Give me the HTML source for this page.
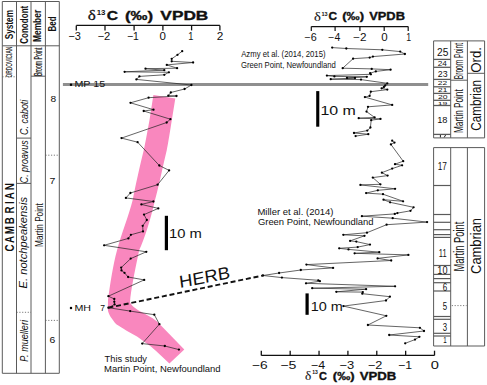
<!DOCTYPE html>
<html><head><meta charset="utf-8"><style>
html,body{margin:0;padding:0;background:#fff;width:487px;height:385px;overflow:hidden}
svg{display:block}
</style></head><body>
<svg width="487" height="385" viewBox="0 0 487 385"><line x1="2.3" y1="1.5" x2="2.3" y2="373.3" stroke="#5a5a5a" stroke-width="1" />
<line x1="16.5" y1="1.5" x2="16.5" y2="373.3" stroke="#5a5a5a" stroke-width="1" />
<line x1="31.0" y1="1.5" x2="31.0" y2="373.3" stroke="#5a5a5a" stroke-width="1" />
<line x1="45.4" y1="1.5" x2="45.4" y2="373.3" stroke="#5a5a5a" stroke-width="1" />
<line x1="59.3" y1="1.5" x2="59.3" y2="373.3" stroke="#5a5a5a" stroke-width="1" />
<line x1="2.3" y1="1.5" x2="59.3" y2="1.5" stroke="#5a5a5a" stroke-width="1" />
<line x1="2.3" y1="373.3" x2="59.3" y2="373.3" stroke="#5a5a5a" stroke-width="1" />
<line x1="2.3" y1="45.8" x2="59.3" y2="45.8" stroke="#5a5a5a" stroke-width="1" />
<line x1="2.3" y1="76.8" x2="16.5" y2="76.8" stroke="#5a5a5a" stroke-width="0.8" stroke-dasharray="1.2,1.6"/>
<line x1="16.5" y1="138.1" x2="31.0" y2="138.1" stroke="#5a5a5a" stroke-width="1" />
<line x1="16.5" y1="183.4" x2="31.0" y2="183.4" stroke="#5a5a5a" stroke-width="1" />
<line x1="16.5" y1="312.3" x2="31.0" y2="312.3" stroke="#5a5a5a" stroke-width="0.8" stroke-dasharray="1.2,1.6"/>
<line x1="31.0" y1="76.2" x2="45.4" y2="76.2" stroke="#5a5a5a" stroke-width="1" />
<line x1="45.4" y1="155.2" x2="59.3" y2="155.2" stroke="#5a5a5a" stroke-width="0.8" stroke-dasharray="1.2,1.6"/>
<line x1="45.4" y1="320.4" x2="59.3" y2="320.4" stroke="#5a5a5a" stroke-width="0.8" stroke-dasharray="1.2,1.6"/>
<text transform="translate(12.50,39.35) rotate(-90) scale(0.7787,1)" font-family="Liberation Sans" font-weight="bold" font-style="normal" font-size="10.6" fill="#111" >System</text>
<text transform="translate(27.50,43.82) rotate(-90) scale(0.7620,1)" font-family="Liberation Sans" font-weight="bold" font-style="normal" font-size="10.6" fill="#111" >Conodont</text>
<text transform="translate(41.40,41.97) rotate(-90) scale(0.7495,1)" font-family="Liberation Sans" font-weight="bold" font-style="normal" font-size="11.2" fill="#111" >Member</text>
<text transform="translate(56.00,31.44) rotate(-90) scale(0.7386,1)" font-family="Liberation Sans" font-weight="bold" font-style="normal" font-size="10.8" fill="#111" >Bed</text>
<text transform="translate(12.40,77.53) rotate(-90) scale(0.5161,1)" font-family="Liberation Sans" font-weight="normal" font-style="normal" font-size="9.4" fill="#111" stroke="#111" stroke-width="0.15">ORDOVICIAN</text>
<text transform="translate(41.70,76.02) rotate(-90) scale(0.4987,1)" font-family="Liberation Sans" font-weight="normal" font-style="normal" font-size="10.3" fill="#111" stroke="#111" stroke-width="0.2">Broom Point</text>
<text transform="translate(13.9,247.9) rotate(-90) scale(0.8,1)" text-anchor="middle" font-family="Liberation Sans" font-weight="bold" font-size="12.2" fill="#111">C</text>
<text transform="translate(13.9,239.5) rotate(-90) scale(0.8,1)" text-anchor="middle" font-family="Liberation Sans" font-weight="bold" font-size="12.2" fill="#111">A</text>
<text transform="translate(13.9,230.2) rotate(-90) scale(0.8,1)" text-anchor="middle" font-family="Liberation Sans" font-weight="bold" font-size="12.2" fill="#111">M</text>
<text transform="translate(13.9,220.8) rotate(-90) scale(0.8,1)" text-anchor="middle" font-family="Liberation Sans" font-weight="bold" font-size="12.2" fill="#111">B</text>
<text transform="translate(13.9,210.0) rotate(-90) scale(0.8,1)" text-anchor="middle" font-family="Liberation Sans" font-weight="bold" font-size="12.2" fill="#111">R</text>
<text transform="translate(13.9,202.7) rotate(-90) scale(0.8,1)" text-anchor="middle" font-family="Liberation Sans" font-weight="bold" font-size="12.2" fill="#111">I</text>
<text transform="translate(13.9,195.7) rotate(-90) scale(0.8,1)" text-anchor="middle" font-family="Liberation Sans" font-weight="bold" font-size="12.2" fill="#111">A</text>
<text transform="translate(13.9,186.8) rotate(-90) scale(0.8,1)" text-anchor="middle" font-family="Liberation Sans" font-weight="bold" font-size="12.2" fill="#111">N</text>
<text transform="translate(28.00,134.89) rotate(-90) scale(0.8355,1)" font-family="Liberation Sans" font-weight="normal" font-style="italic" font-size="10.7" fill="#111" >C. caboti</text>
<text transform="translate(27.60,183.19) rotate(-90) scale(0.8443,1)" font-family="Liberation Sans" font-weight="normal" font-style="italic" font-size="10.5" fill="#111" >C. proavus</text>
<text transform="translate(27.00,288.54) rotate(-90) scale(1.0374,1)" font-family="Liberation Sans" font-weight="normal" font-style="italic" font-size="10.8" fill="#111" >E. notchpeakensis</text>
<text transform="translate(28.20,361.77) rotate(-90) scale(0.8657,1)" font-family="Liberation Sans" font-weight="normal" font-style="italic" font-size="10.5" fill="#111" >P. muelleri</text>
<text transform="translate(42.60,246.88) rotate(-90) scale(0.7808,1)" font-family="Liberation Sans" font-weight="normal" font-style="normal" font-size="10.5" fill="#111" >Martin Point</text>
<text transform="translate(50.47,102.00) scale(1.0750,1.0)" font-family="Liberation Sans" font-weight="normal" font-style="normal" font-size="9.5" fill="#111" >8</text>
<text transform="translate(49.47,184.40) scale(1.1105,1.0)" font-family="Liberation Sans" font-weight="normal" font-style="normal" font-size="9.5" fill="#111" >7</text>
<text transform="translate(49.38,342.80) scale(1.0925,1.0)" font-family="Liberation Sans" font-weight="normal" font-style="normal" font-size="9.5" fill="#111" >6</text>
<path d="M153.4,95 L175.3,98.4 C171,125 168,145 166.8,150 C162,170 158,190 155,200 C150,222 144,240 139.2,250 C134,275 131,290 130,302 C131,305 134,308 142.5,312.6 C150,316.5 156,320 161,325.5 L184.3,349.4 L169.4,363.4 L155.5,350.5 C150,345.5 146,343 137,336.6 C130,333 122,328 116.6,324.6 C112,319 108,314 107.8,308.9 L108,300 C110,285 113,265 117.1,250 C121,235 129,215 132.7,200 C135,188 140,165 143.8,150 C146,140 148,128 149.5,120 Z" fill="#f987be"/>
<line x1="62.9" y1="84.5" x2="428.2" y2="84.5" stroke="#8f8f8f" stroke-width="3" />
<line x1="76.3" y1="25.4" x2="219.9" y2="25.4" stroke="#111" stroke-width="1.3" />
<line x1="76.3" y1="25.4" x2="76.3" y2="30.4" stroke="#111" stroke-width="1.3" />
<line x1="105.0" y1="25.4" x2="105.0" y2="30.4" stroke="#111" stroke-width="1.3" />
<line x1="134.1" y1="25.4" x2="134.1" y2="30.4" stroke="#111" stroke-width="1.3" />
<line x1="162.9" y1="25.4" x2="162.9" y2="30.4" stroke="#111" stroke-width="1.3" />
<line x1="191.6" y1="25.4" x2="191.6" y2="30.4" stroke="#111" stroke-width="1.3" />
<line x1="219.9" y1="25.4" x2="219.9" y2="30.4" stroke="#111" stroke-width="1.3" />
<text transform="translate(68.35,39.60) scale(1.0357,1.0)" font-family="Liberation Sans" font-weight="normal" font-style="normal" font-size="10.6" fill="#111" >−3</text>
<text transform="translate(97.44,39.60) scale(1.0613,1.0)" font-family="Liberation Sans" font-weight="normal" font-style="normal" font-size="10.6" fill="#111" >−2</text>
<text transform="translate(126.98,39.60) scale(0.9864,1.0)" font-family="Liberation Sans" font-weight="normal" font-style="normal" font-size="10.6" fill="#111" >−1</text>
<text transform="translate(159.44,39.60) scale(1.0866,1.0)" font-family="Liberation Sans" font-weight="normal" font-style="normal" font-size="10.6" fill="#111" >0</text>
<text transform="translate(188.31,39.60) scale(0.8725,1.0)" font-family="Liberation Sans" font-weight="normal" font-style="normal" font-size="10.6" fill="#111" >1</text>
<text transform="translate(216.81,39.60) scale(1.1196,1.0)" font-family="Liberation Sans" font-weight="normal" font-style="normal" font-size="10.6" fill="#111" >2</text>
<text transform="translate(87.76,19.50) scale(1.1405,1.0)" font-family="Liberation Serif" font-weight="normal" font-style="normal" font-size="15" fill="#111" stroke="#111" stroke-width="0.25">δ</text>
<text transform="translate(96.71,14.50) scale(1.2542,1.0)" font-family="Liberation Sans" font-weight="bold" font-style="normal" font-size="6.3" fill="#111" >13</text>
<text transform="translate(106.67,20.00) scale(1.1913,1.0)" font-family="Liberation Sans" font-weight="bold" font-style="normal" font-size="13.2" fill="#111" stroke="#111" stroke-width="0.35">C</text>
<text transform="translate(124.96,20.00) scale(1.2780,1.0)" font-family="Liberation Sans" font-weight="bold" font-style="normal" font-size="13.2" fill="#111" stroke="#111" stroke-width="0.35">(‰)</text>
<text transform="translate(160.37,19.80) scale(1.3094,1.0)" font-family="Liberation Sans" font-weight="bold" font-style="normal" font-size="13.2" fill="#111" stroke="#111" stroke-width="0.35">VPDB</text>
<path d="M182.2,51.2 L177.5,54.8 L171.7,58.8 L171.7,61.3 L193.1,62.5 L166.8,64.9 L177.1,68.2 L145.5,68.7 L164.3,70.2 L124.6,71.8 L168.9,72.3 L164.3,74.8 L139.4,76.4 L136.4,79.4 L191.4,85 L184.6,89 L170.8,92.5 L168.3,95.7 L176.5,96 L148.6,97.7 L130.5,102.8 L153.5,109.7 L143.7,111 L170.4,119.2 L166.7,122.5 L121.5,138.1 L137.6,142.2 L159.3,165.5 L169.1,170.4 L157.6,184.7 L130.4,193 L125.9,197.9 L153.4,201.5 L141.4,204.4 L158.3,208.4 L144,214.6 L146.8,220 L142.7,225.8 L143,231.4 L130.9,234.8 L128.4,238.4 L104.1,245.3 L146.3,251.8 L130.7,258.6 L121.2,267.6 L121.5,270.4 L124.5,272.8 L128.1,277 L144.2,279.9 L108.4,296.2 L114.3,299 L114.3,301.8 L114.6,304.4 L108.4,307.7 L130.2,311.1 L154.3,314.7 L159.4,324.2 L142.2,343.6 L164.8,346 L178.9,349.6" fill="none" stroke="#222" stroke-width="0.7" stroke-linejoin="round"/>
<circle cx="182.2" cy="51.2" r="1.15" fill="#000"/>
<circle cx="177.5" cy="54.8" r="1.15" fill="#000"/>
<circle cx="171.7" cy="58.8" r="1.15" fill="#000"/>
<circle cx="171.7" cy="61.3" r="1.15" fill="#000"/>
<circle cx="193.1" cy="62.5" r="1.15" fill="#000"/>
<circle cx="166.8" cy="64.9" r="1.15" fill="#000"/>
<circle cx="177.1" cy="68.2" r="1.15" fill="#000"/>
<circle cx="145.5" cy="68.7" r="1.15" fill="#000"/>
<circle cx="164.3" cy="70.2" r="1.15" fill="#000"/>
<circle cx="124.6" cy="71.8" r="1.15" fill="#000"/>
<circle cx="168.9" cy="72.3" r="1.15" fill="#000"/>
<circle cx="164.3" cy="74.8" r="1.15" fill="#000"/>
<circle cx="139.4" cy="76.4" r="1.15" fill="#000"/>
<circle cx="136.4" cy="79.4" r="1.15" fill="#000"/>
<circle cx="191.4" cy="85" r="1.15" fill="#000"/>
<circle cx="184.6" cy="89" r="1.15" fill="#000"/>
<circle cx="170.8" cy="92.5" r="1.15" fill="#000"/>
<circle cx="168.3" cy="95.7" r="1.15" fill="#000"/>
<circle cx="176.5" cy="96" r="1.15" fill="#000"/>
<circle cx="148.6" cy="97.7" r="1.15" fill="#000"/>
<circle cx="130.5" cy="102.8" r="1.15" fill="#000"/>
<circle cx="153.5" cy="109.7" r="1.15" fill="#000"/>
<circle cx="143.7" cy="111" r="1.15" fill="#000"/>
<circle cx="170.4" cy="119.2" r="1.15" fill="#000"/>
<circle cx="166.7" cy="122.5" r="1.15" fill="#000"/>
<circle cx="121.5" cy="138.1" r="1.15" fill="#000"/>
<circle cx="137.6" cy="142.2" r="1.15" fill="#000"/>
<circle cx="159.3" cy="165.5" r="1.15" fill="#000"/>
<circle cx="169.1" cy="170.4" r="1.15" fill="#000"/>
<circle cx="157.6" cy="184.7" r="1.15" fill="#000"/>
<circle cx="130.4" cy="193" r="1.15" fill="#000"/>
<circle cx="125.9" cy="197.9" r="1.15" fill="#000"/>
<circle cx="153.4" cy="201.5" r="1.15" fill="#000"/>
<circle cx="141.4" cy="204.4" r="1.15" fill="#000"/>
<circle cx="158.3" cy="208.4" r="1.15" fill="#000"/>
<circle cx="144" cy="214.6" r="1.15" fill="#000"/>
<circle cx="146.8" cy="220" r="1.15" fill="#000"/>
<circle cx="142.7" cy="225.8" r="1.15" fill="#000"/>
<circle cx="143" cy="231.4" r="1.15" fill="#000"/>
<circle cx="130.9" cy="234.8" r="1.15" fill="#000"/>
<circle cx="128.4" cy="238.4" r="1.15" fill="#000"/>
<circle cx="104.1" cy="245.3" r="1.15" fill="#000"/>
<circle cx="146.3" cy="251.8" r="1.15" fill="#000"/>
<circle cx="130.7" cy="258.6" r="1.15" fill="#000"/>
<circle cx="121.2" cy="267.6" r="1.15" fill="#000"/>
<circle cx="121.5" cy="270.4" r="1.15" fill="#000"/>
<circle cx="124.5" cy="272.8" r="1.15" fill="#000"/>
<circle cx="128.1" cy="277" r="1.15" fill="#000"/>
<circle cx="144.2" cy="279.9" r="1.15" fill="#000"/>
<circle cx="108.4" cy="296.2" r="1.15" fill="#000"/>
<circle cx="114.3" cy="299" r="1.15" fill="#000"/>
<circle cx="114.3" cy="301.8" r="1.15" fill="#000"/>
<circle cx="114.6" cy="304.4" r="1.15" fill="#000"/>
<circle cx="108.4" cy="307.7" r="1.15" fill="#000"/>
<circle cx="130.2" cy="311.1" r="1.15" fill="#000"/>
<circle cx="154.3" cy="314.7" r="1.15" fill="#000"/>
<circle cx="159.4" cy="324.2" r="1.15" fill="#000"/>
<circle cx="142.2" cy="343.6" r="1.15" fill="#000"/>
<circle cx="164.8" cy="346" r="1.15" fill="#000"/>
<circle cx="178.9" cy="349.6" r="1.15" fill="#000"/>
<path d="M332.2,47.6 L346.3,48.5 L382.3,49.8 L400.2,51.6 L404.9,54 L372.9,56.6 L369.7,57.6 L353.1,58.7 L342.7,68.2 L371.7,68.9 L390.6,69.7 L375.8,71.4 L370.1,73.2 L370.9,74.3 L326.9,75.6 L334.4,76.4 L366.8,76.8 L347,78 L355,78 L330.7,79.2 L361,79.6 L387.3,83.3 L385.2,85.5 L383.9,87 L381.6,88.3 L387.3,89.6 L370.8,91.7 L369.6,95.9 L364.9,97.1 L392.2,104.9 L368,106.8 L366.5,111.6 L374.6,117.4 L358.7,118.2 L380.5,118.9 L371.2,120.2 L370.4,127.5 L367.3,130.6 L354,133 L368.3,134.2 L355.6,136.1" fill="none" stroke="#222" stroke-width="0.7" stroke-linejoin="round"/>
<circle cx="332.2" cy="47.6" r="1.15" fill="#000"/>
<circle cx="346.3" cy="48.5" r="1.15" fill="#000"/>
<circle cx="382.3" cy="49.8" r="1.15" fill="#000"/>
<circle cx="400.2" cy="51.6" r="1.15" fill="#000"/>
<circle cx="404.9" cy="54" r="1.15" fill="#000"/>
<circle cx="372.9" cy="56.6" r="1.15" fill="#000"/>
<circle cx="369.7" cy="57.6" r="1.15" fill="#000"/>
<circle cx="353.1" cy="58.7" r="1.15" fill="#000"/>
<circle cx="342.7" cy="68.2" r="1.15" fill="#000"/>
<circle cx="371.7" cy="68.9" r="1.15" fill="#000"/>
<circle cx="390.6" cy="69.7" r="1.15" fill="#000"/>
<circle cx="375.8" cy="71.4" r="1.15" fill="#000"/>
<circle cx="370.1" cy="73.2" r="1.15" fill="#000"/>
<circle cx="370.9" cy="74.3" r="1.15" fill="#000"/>
<circle cx="326.9" cy="75.6" r="1.15" fill="#000"/>
<circle cx="334.4" cy="76.4" r="1.15" fill="#000"/>
<circle cx="366.8" cy="76.8" r="1.15" fill="#000"/>
<circle cx="347" cy="78" r="1.15" fill="#000"/>
<circle cx="355" cy="78" r="1.15" fill="#000"/>
<circle cx="330.7" cy="79.2" r="1.15" fill="#000"/>
<circle cx="361" cy="79.6" r="1.15" fill="#000"/>
<circle cx="387.3" cy="83.3" r="1.15" fill="#000"/>
<circle cx="385.2" cy="85.5" r="1.15" fill="#000"/>
<circle cx="383.9" cy="87" r="1.15" fill="#000"/>
<circle cx="381.6" cy="88.3" r="1.15" fill="#000"/>
<circle cx="387.3" cy="89.6" r="1.15" fill="#000"/>
<circle cx="370.8" cy="91.7" r="1.15" fill="#000"/>
<circle cx="369.6" cy="95.9" r="1.15" fill="#000"/>
<circle cx="364.9" cy="97.1" r="1.15" fill="#000"/>
<circle cx="392.2" cy="104.9" r="1.15" fill="#000"/>
<circle cx="368" cy="106.8" r="1.15" fill="#000"/>
<circle cx="366.5" cy="111.6" r="1.15" fill="#000"/>
<circle cx="374.6" cy="117.4" r="1.15" fill="#000"/>
<circle cx="358.7" cy="118.2" r="1.15" fill="#000"/>
<circle cx="380.5" cy="118.9" r="1.15" fill="#000"/>
<circle cx="371.2" cy="120.2" r="1.15" fill="#000"/>
<circle cx="370.4" cy="127.5" r="1.15" fill="#000"/>
<circle cx="367.3" cy="130.6" r="1.15" fill="#000"/>
<circle cx="354" cy="133" r="1.15" fill="#000"/>
<circle cx="368.3" cy="134.2" r="1.15" fill="#000"/>
<circle cx="355.6" cy="136.1" r="1.15" fill="#000"/>
<path d="M392.2,140.7 L394.5,142.6 L390.9,144.4 L403.2,161.2 L395,164.2 L402.1,165.3 L392.2,168.6 L381.9,172.7 L387.6,175.6 L372.8,177.6 L380.4,184.3 L360.4,184.9 L395.1,188.8 L377.8,190.3 L366.1,193.1 L383,194.2 L403.1,201.3 L383.5,199.7 L390.1,202.3 L413.6,207.3 L410.5,210.8 L397.4,213.1 L394.8,213.9 L361.9,216.2 L392.7,218.2 L427.1,222.1 L386.6,224.7 L367,232.7 L343.3,234.8 L364.5,235.8 L350.1,240.9 L356.3,241.6 L370,244.6 L357.7,247.1 L339.2,248.3 L348.5,249.4 L379.3,252.2 L354.6,253.3 L408.4,254.9 L377.6,258.4 L391.2,260.5 L306.4,264.6 L333.1,267.9 L300.8,270 L279.1,273 L263,275.5 L281.9,277.6 L318.3,280.3 L319.9,281.2 L306,283.3 L395.1,286.3 L312.2,288.2 L366.1,289.2 L336.3,291.8 L362.8,292.1 L362.3,293.7 L389.9,296.7 L386,300.5 L343.4,306.1 L386.3,315.8 L367.9,325 L419.9,327.8 L424,331 L389.2,335 L419.4,336.8 L415,339.6 L405.2,343.3" fill="none" stroke="#222" stroke-width="0.7" stroke-linejoin="round"/>
<circle cx="392.2" cy="140.7" r="1.15" fill="#000"/>
<circle cx="394.5" cy="142.6" r="1.15" fill="#000"/>
<circle cx="390.9" cy="144.4" r="1.15" fill="#000"/>
<circle cx="403.2" cy="161.2" r="1.15" fill="#000"/>
<circle cx="395" cy="164.2" r="1.15" fill="#000"/>
<circle cx="402.1" cy="165.3" r="1.15" fill="#000"/>
<circle cx="392.2" cy="168.6" r="1.15" fill="#000"/>
<circle cx="381.9" cy="172.7" r="1.15" fill="#000"/>
<circle cx="387.6" cy="175.6" r="1.15" fill="#000"/>
<circle cx="372.8" cy="177.6" r="1.15" fill="#000"/>
<circle cx="380.4" cy="184.3" r="1.15" fill="#000"/>
<circle cx="360.4" cy="184.9" r="1.15" fill="#000"/>
<circle cx="395.1" cy="188.8" r="1.15" fill="#000"/>
<circle cx="377.8" cy="190.3" r="1.15" fill="#000"/>
<circle cx="366.1" cy="193.1" r="1.15" fill="#000"/>
<circle cx="383" cy="194.2" r="1.15" fill="#000"/>
<circle cx="403.1" cy="201.3" r="1.15" fill="#000"/>
<circle cx="383.5" cy="199.7" r="1.15" fill="#000"/>
<circle cx="390.1" cy="202.3" r="1.15" fill="#000"/>
<circle cx="413.6" cy="207.3" r="1.15" fill="#000"/>
<circle cx="410.5" cy="210.8" r="1.15" fill="#000"/>
<circle cx="397.4" cy="213.1" r="1.15" fill="#000"/>
<circle cx="394.8" cy="213.9" r="1.15" fill="#000"/>
<circle cx="361.9" cy="216.2" r="1.15" fill="#000"/>
<circle cx="392.7" cy="218.2" r="1.15" fill="#000"/>
<circle cx="427.1" cy="222.1" r="1.15" fill="#000"/>
<circle cx="386.6" cy="224.7" r="1.15" fill="#000"/>
<circle cx="367" cy="232.7" r="1.15" fill="#000"/>
<circle cx="343.3" cy="234.8" r="1.15" fill="#000"/>
<circle cx="364.5" cy="235.8" r="1.15" fill="#000"/>
<circle cx="350.1" cy="240.9" r="1.15" fill="#000"/>
<circle cx="356.3" cy="241.6" r="1.15" fill="#000"/>
<circle cx="370" cy="244.6" r="1.15" fill="#000"/>
<circle cx="357.7" cy="247.1" r="1.15" fill="#000"/>
<circle cx="339.2" cy="248.3" r="1.15" fill="#000"/>
<circle cx="348.5" cy="249.4" r="1.15" fill="#000"/>
<circle cx="379.3" cy="252.2" r="1.15" fill="#000"/>
<circle cx="354.6" cy="253.3" r="1.15" fill="#000"/>
<circle cx="408.4" cy="254.9" r="1.15" fill="#000"/>
<circle cx="377.6" cy="258.4" r="1.15" fill="#000"/>
<circle cx="391.2" cy="260.5" r="1.15" fill="#000"/>
<circle cx="306.4" cy="264.6" r="1.15" fill="#000"/>
<circle cx="333.1" cy="267.9" r="1.15" fill="#000"/>
<circle cx="300.8" cy="270" r="1.15" fill="#000"/>
<circle cx="279.1" cy="273" r="1.15" fill="#000"/>
<circle cx="263" cy="275.5" r="1.15" fill="#000"/>
<circle cx="281.9" cy="277.6" r="1.15" fill="#000"/>
<circle cx="318.3" cy="280.3" r="1.15" fill="#000"/>
<circle cx="319.9" cy="281.2" r="1.15" fill="#000"/>
<circle cx="306" cy="283.3" r="1.15" fill="#000"/>
<circle cx="395.1" cy="286.3" r="1.15" fill="#000"/>
<circle cx="312.2" cy="288.2" r="1.15" fill="#000"/>
<circle cx="366.1" cy="289.2" r="1.15" fill="#000"/>
<circle cx="336.3" cy="291.8" r="1.15" fill="#000"/>
<circle cx="362.8" cy="292.1" r="1.15" fill="#000"/>
<circle cx="362.3" cy="293.7" r="1.15" fill="#000"/>
<circle cx="389.9" cy="296.7" r="1.15" fill="#000"/>
<circle cx="386" cy="300.5" r="1.15" fill="#000"/>
<circle cx="343.4" cy="306.1" r="1.15" fill="#000"/>
<circle cx="386.3" cy="315.8" r="1.15" fill="#000"/>
<circle cx="367.9" cy="325" r="1.15" fill="#000"/>
<circle cx="419.9" cy="327.8" r="1.15" fill="#000"/>
<circle cx="424" cy="331" r="1.15" fill="#000"/>
<circle cx="389.2" cy="335" r="1.15" fill="#000"/>
<circle cx="419.4" cy="336.8" r="1.15" fill="#000"/>
<circle cx="415" cy="339.6" r="1.15" fill="#000"/>
<circle cx="405.2" cy="343.3" r="1.15" fill="#000"/>
<circle cx="71" cy="84.7" r="1.25" fill="#000"/>
<text transform="translate(74.42,87.30) scale(1.1631,1.0)" font-family="Liberation Sans" font-weight="normal" font-style="normal" font-size="9.2" fill="#111" >MP 15</text>
<circle cx="71" cy="308.1" r="1.25" fill="#000"/>
<text transform="translate(74.42,310.80) scale(1.1831,1.0)" font-family="Liberation Sans" font-weight="normal" font-style="normal" font-size="9.0" fill="#111" >MH</text>
<text transform="translate(100.17,310.80) scale(0.9524,1.0)" font-family="Liberation Sans" font-weight="normal" font-style="normal" font-size="9.0" fill="#111" >7</text>
<line x1="108.4" y1="307.7" x2="263" y2="275.5" stroke="#111" stroke-width="1.9" stroke-dasharray="5,2.8"/>
<text transform="translate(181.6,287.8) rotate(-11.2) skewX(-4) scale(1.077,1) translate(-1.42,0)" font-family="Liberation Sans" font-size="17.2" fill="#111">HERB</text>
<rect x="164.8" y="215.8" width="3.2" height="34.4" fill="#000"/>
<text transform="translate(169.09,237.90) scale(1.1204,1.0)" font-family="Liberation Sans" font-weight="normal" font-style="normal" font-size="13.2" fill="#111" >10 m</text>
<rect x="316.2" y="91.1" width="3.1" height="35.6" fill="#000"/>
<text transform="translate(320.40,114.70) scale(1.2358,1.0)" font-family="Liberation Sans" font-weight="normal" font-style="normal" font-size="12.9" fill="#111" >10 m</text>
<rect x="305.5" y="293.4" width="3.2" height="21.4" fill="#000"/>
<text transform="translate(310.72,311.00) scale(1.1118,1.0)" font-family="Liberation Sans" font-weight="normal" font-style="normal" font-size="13" fill="#111" >10 m</text>
<text transform="translate(104.59,361.60) scale(0.9501,1.0)" font-family="Liberation Sans" font-weight="normal" font-style="normal" font-size="9.8" fill="#111" >This study</text>
<text transform="translate(104.02,372.40) scale(0.9700,1.0)" font-family="Liberation Sans" font-weight="normal" font-style="normal" font-size="9.8" fill="#111" >Martin Point, Newfoundland</text>
<text transform="translate(241.18,57.30) scale(0.8419,1.0)" font-family="Liberation Sans" font-weight="normal" font-style="normal" font-size="9.2" fill="#111" >Azmy et al. (2014, 2015)</text>
<text transform="translate(241.01,68.00) scale(0.8394,1.0)" font-family="Liberation Sans" font-weight="normal" font-style="normal" font-size="9.2" fill="#111" >Green Point, Newfoundland</text>
<text transform="translate(257.41,214.70) scale(1.0344,1.0)" font-family="Liberation Sans" font-weight="normal" font-style="normal" font-size="9.2" fill="#111" >Miller et al. (2014)</text>
<text transform="translate(257.93,225.20) scale(1.0251,1.0)" font-family="Liberation Sans" font-weight="normal" font-style="normal" font-size="9.2" fill="#111" >Green Point, Newfoundland</text>
<line x1="311.3" y1="26.6" x2="408.2" y2="26.6" stroke="#111" stroke-width="1.2" />
<line x1="311.3" y1="26.6" x2="311.3" y2="31.1" stroke="#111" stroke-width="1.2" />
<line x1="335.1" y1="26.6" x2="335.1" y2="31.1" stroke="#111" stroke-width="1.2" />
<line x1="359.9" y1="26.6" x2="359.9" y2="31.1" stroke="#111" stroke-width="1.2" />
<line x1="384.2" y1="26.6" x2="384.2" y2="31.1" stroke="#111" stroke-width="1.2" />
<line x1="408.2" y1="26.6" x2="408.2" y2="31.1" stroke="#111" stroke-width="1.2" />
<text transform="translate(304.46,41.00) scale(1.0788,1.0)" font-family="Liberation Sans" font-weight="normal" font-style="normal" font-size="10" fill="#111" >−6</text>
<text transform="translate(328.37,41.00) scale(1.0541,1.0)" font-family="Liberation Sans" font-weight="normal" font-style="normal" font-size="10" fill="#111" >−4</text>
<text transform="translate(353.21,41.00) scale(1.1731,1.0)" font-family="Liberation Sans" font-weight="normal" font-style="normal" font-size="10" fill="#111" >−2</text>
<text transform="translate(381.34,41.00) scale(1.1518,1.0)" font-family="Liberation Sans" font-weight="normal" font-style="normal" font-size="10" fill="#111" >0</text>
<text transform="translate(406.34,41.00) scale(0.8786,1.0)" font-family="Liberation Sans" font-weight="normal" font-style="normal" font-size="10" fill="#111" >1</text>
<text transform="translate(314.05,20.50) scale(1.1224,1.0)" font-family="Liberation Serif" font-weight="normal" font-style="normal" font-size="13" fill="#111" stroke="#111" stroke-width="0.1">δ</text>
<text transform="translate(321.45,15.50) scale(1.0056,1.0)" font-family="Liberation Sans" font-weight="bold" font-style="normal" font-size="5.5" fill="#111" >13</text>
<text transform="translate(328.52,20.30) scale(1.0538,1.0)" font-family="Liberation Sans" font-weight="bold" font-style="normal" font-size="11.3" fill="#111" stroke="#111" stroke-width="0.35">C</text>
<text transform="translate(342.25,20.30) scale(1.1592,1.0)" font-family="Liberation Sans" font-weight="bold" font-style="normal" font-size="11.3" fill="#111" stroke="#111" stroke-width="0.35">(‰)</text>
<text transform="translate(369.20,20.30) scale(1.1399,1.0)" font-family="Liberation Sans" font-weight="bold" font-style="normal" font-size="11.3" fill="#111" stroke="#111" stroke-width="0.35">VPDB</text>
<line x1="261.3" y1="355.4" x2="434.52" y2="355.4" stroke="#111" stroke-width="1.3" />
<line x1="261.3" y1="350.7" x2="261.3" y2="355.4" stroke="#111" stroke-width="1.3" />
<line x1="290.17" y1="350.7" x2="290.17" y2="355.4" stroke="#111" stroke-width="1.3" />
<line x1="319.04" y1="350.7" x2="319.04" y2="355.4" stroke="#111" stroke-width="1.3" />
<line x1="347.91" y1="350.7" x2="347.91" y2="355.4" stroke="#111" stroke-width="1.3" />
<line x1="376.78000000000003" y1="350.7" x2="376.78000000000003" y2="355.4" stroke="#111" stroke-width="1.3" />
<line x1="405.65" y1="350.7" x2="405.65" y2="355.4" stroke="#111" stroke-width="1.3" />
<line x1="434.52" y1="350.7" x2="434.52" y2="355.4" stroke="#111" stroke-width="1.3" />
<text transform="translate(252.11,368.90) scale(1.2274,1.0)" font-family="Liberation Sans" font-weight="normal" font-style="normal" font-size="11.2" fill="#111" >−6</text>
<text transform="translate(280.40,368.90) scale(1.2585,1.0)" font-family="Liberation Sans" font-weight="normal" font-style="normal" font-size="11.2" fill="#111" >−5</text>
<text transform="translate(310.88,368.90) scale(1.1092,1.0)" font-family="Liberation Sans" font-weight="normal" font-style="normal" font-size="11.2" fill="#111" >−4</text>
<text transform="translate(339.45,368.90) scale(1.1592,1.0)" font-family="Liberation Sans" font-weight="normal" font-style="normal" font-size="11.2" fill="#111" >−3</text>
<text transform="translate(367.97,368.90) scale(1.1332,1.0)" font-family="Liberation Sans" font-weight="normal" font-style="normal" font-size="11.2" fill="#111" >−2</text>
<text transform="translate(398.19,368.90) scale(1.0963,1.0)" font-family="Liberation Sans" font-weight="normal" font-style="normal" font-size="11.2" fill="#111" >−1</text>
<text transform="translate(430.71,368.90) scale(1.3089,1.0)" font-family="Liberation Sans" font-weight="normal" font-style="normal" font-size="11.2" fill="#111" >0</text>
<text transform="translate(304.90,379.90) scale(0.9877,1.0)" font-family="Liberation Serif" font-weight="normal" font-style="normal" font-size="13.5" fill="#111" stroke="#111" stroke-width="0.1">δ</text>
<text transform="translate(312.29,374.00) scale(0.9158,1.0)" font-family="Liberation Sans" font-weight="bold" font-style="normal" font-size="5.5" fill="#111" >13</text>
<text transform="translate(319.06,379.90) scale(0.9728,1.0)" font-family="Liberation Sans" font-weight="bold" font-style="normal" font-size="11.3" fill="#111" stroke="#111" stroke-width="0.35">C</text>
<text transform="translate(332.85,379.90) scale(1.1536,1.0)" font-family="Liberation Sans" font-weight="bold" font-style="normal" font-size="11.3" fill="#111" stroke="#111" stroke-width="0.35">(‰)</text>
<text transform="translate(359.70,379.90) scale(1.1691,1.0)" font-family="Liberation Sans" font-weight="bold" font-style="normal" font-size="11.3" fill="#111" stroke="#111" stroke-width="0.35">VPDB</text>
<line x1="433.6" y1="40.9" x2="433.6" y2="137.9" stroke="#5a5a5a" stroke-width="1" />
<line x1="450.7" y1="40.9" x2="450.7" y2="137.9" stroke="#5a5a5a" stroke-width="1" />
<line x1="467.4" y1="40.9" x2="467.4" y2="137.9" stroke="#5a5a5a" stroke-width="1" />
<line x1="484.6" y1="40.9" x2="484.6" y2="137.9" stroke="#5a5a5a" stroke-width="1" />
<line x1="433.6" y1="40.9" x2="484.6" y2="40.9" stroke="#5a5a5a" stroke-width="1" />
<line x1="433.6" y1="137.9" x2="484.6" y2="137.9" stroke="#5a5a5a" stroke-width="1" />
<line x1="433.6" y1="59.4" x2="450.7" y2="59.4" stroke="#5a5a5a" stroke-width="1.3" />
<line x1="433.6" y1="67.3" x2="450.7" y2="67.3" stroke="#5a5a5a" stroke-width="1.3" />
<line x1="433.6" y1="79.4" x2="450.7" y2="79.4" stroke="#5a5a5a" stroke-width="1.3" />
<line x1="433.6" y1="86.8" x2="450.7" y2="86.8" stroke="#5a5a5a" stroke-width="1.3" />
<line x1="433.6" y1="93.4" x2="450.7" y2="93.4" stroke="#5a5a5a" stroke-width="1.3" />
<line x1="433.6" y1="100.3" x2="450.7" y2="100.3" stroke="#5a5a5a" stroke-width="1.3" />
<line x1="433.6" y1="105.5" x2="450.7" y2="105.5" stroke="#5a5a5a" stroke-width="1.3" />
<line x1="433.6" y1="134.4" x2="450.7" y2="134.4" stroke="#5a5a5a" stroke-width="1.3" />
<line x1="450.7" y1="80.2" x2="467.4" y2="80.2" stroke="#5a5a5a" stroke-width="1" />
<line x1="467.4" y1="73.3" x2="484.6" y2="73.3" stroke="#5a5a5a" stroke-width="1" />
<text transform="translate(437.09,55.60) scale(0.9996,1.0)" font-family="Liberation Sans" font-weight="normal" font-style="normal" font-size="10.2" fill="#111" >25</text>
<text transform="translate(437.79,66.40) scale(0.8758,0.68)" font-family="Liberation Sans" font-weight="normal" font-style="normal" font-size="9.4" fill="#111" >24</text>
<text transform="translate(437.76,76.90) scale(0.9026,1.0)" font-family="Liberation Sans" font-weight="normal" font-style="normal" font-size="9.8" fill="#111" >23</text>
<text transform="translate(437.78,85.00) scale(0.9351,0.68)" font-family="Liberation Sans" font-weight="normal" font-style="normal" font-size="9.0" fill="#111" >22</text>
<text transform="translate(438.08,92.00) scale(0.9328,0.53)" font-family="Liberation Sans" font-weight="normal" font-style="normal" font-size="9.0" fill="#111" >21</text>
<text transform="translate(438.07,98.90) scale(0.9563,0.6)" font-family="Liberation Sans" font-weight="normal" font-style="normal" font-size="9.0" fill="#111" >20</text>
<text transform="translate(437.86,104.50) scale(0.9540,0.43)" font-family="Liberation Sans" font-weight="normal" font-style="normal" font-size="9.0" fill="#111" >19</text>
<text transform="translate(437.20,122.60) scale(0.9459,1.0)" font-family="Liberation Sans" font-weight="normal" font-style="normal" font-size="9.8" fill="#111" >18</text>
<line x1="440.4" y1="135.0" x2="440.4" y2="137.4" stroke="#222" stroke-width="1.0" />
<line x1="445.6" y1="135.0" x2="444.2" y2="137.4" stroke="#222" stroke-width="1.0" />
<text transform="translate(462.90,79.14) rotate(-90) scale(0.5347,1)" font-family="Liberation Sans" font-weight="normal" font-style="normal" font-size="12.3" fill="#111" >Broom Point</text>
<text transform="translate(463.20,132.98) rotate(-90) scale(0.6211,1)" font-family="Liberation Sans" font-weight="normal" font-style="normal" font-size="13.2" fill="#111" >Martin Point</text>
<text transform="translate(480.60,72.73) rotate(-90) scale(0.9312,1)" font-family="Liberation Sans" font-weight="normal" font-style="normal" font-size="14.2" fill="#111" >Ord.</text>
<text transform="translate(480.70,130.68) rotate(-90) scale(0.8068,1)" font-family="Liberation Sans" font-weight="normal" font-style="normal" font-size="14.5" fill="#111" >Cambrian</text>
<line x1="433.6" y1="147.6" x2="433.6" y2="346" stroke="#5a5a5a" stroke-width="1" />
<line x1="450.7" y1="147.6" x2="450.7" y2="346" stroke="#5a5a5a" stroke-width="1" />
<line x1="467.4" y1="147.6" x2="467.4" y2="346" stroke="#5a5a5a" stroke-width="1" />
<line x1="484.6" y1="147.6" x2="484.6" y2="346" stroke="#5a5a5a" stroke-width="1" />
<line x1="433.6" y1="147.6" x2="484.6" y2="147.6" stroke="#5a5a5a" stroke-width="1" />
<line x1="433.6" y1="346" x2="484.6" y2="346" stroke="#5a5a5a" stroke-width="1" />
<line x1="433.6" y1="185.5" x2="450.7" y2="185.5" stroke="#5a5a5a" stroke-width="1.2" />
<line x1="433.6" y1="214.5" x2="450.7" y2="214.5" stroke="#5a5a5a" stroke-width="1.2" />
<line x1="433.6" y1="222.3" x2="450.7" y2="222.3" stroke="#5a5a5a" stroke-width="1.2" />
<line x1="433.6" y1="229.7" x2="450.7" y2="229.7" stroke="#5a5a5a" stroke-width="1.2" />
<line x1="433.6" y1="234.6" x2="450.7" y2="234.6" stroke="#5a5a5a" stroke-width="1.2" />
<line x1="433.6" y1="237.4" x2="450.7" y2="237.4" stroke="#5a5a5a" stroke-width="1.2" />
<line x1="433.6" y1="265.5" x2="450.7" y2="265.5" stroke="#5a5a5a" stroke-width="1.2" />
<line x1="433.6" y1="274.4" x2="450.7" y2="274.4" stroke="#5a5a5a" stroke-width="1.2" />
<line x1="433.6" y1="278.6" x2="450.7" y2="278.6" stroke="#5a5a5a" stroke-width="1.2" />
<line x1="433.6" y1="282.7" x2="450.7" y2="282.7" stroke="#5a5a5a" stroke-width="1.2" />
<line x1="433.6" y1="291.0" x2="450.7" y2="291.0" stroke="#5a5a5a" stroke-width="1.2" />
<line x1="433.6" y1="316.5" x2="450.7" y2="316.5" stroke="#5a5a5a" stroke-width="1.2" />
<line x1="433.6" y1="319.3" x2="450.7" y2="319.3" stroke="#5a5a5a" stroke-width="1.2" />
<line x1="433.6" y1="333.3" x2="450.7" y2="333.3" stroke="#5a5a5a" stroke-width="1.2" />
<line x1="433.6" y1="336.0" x2="450.7" y2="336.0" stroke="#5a5a5a" stroke-width="1.2" />
<line x1="451.8" y1="305.6" x2="466.6" y2="305.6" stroke="#5a5a5a" stroke-width="0.8" stroke-dasharray="1.2,1.6"/>
<text transform="translate(437.68,169.90) scale(0.7568,1.0)" font-family="Liberation Sans" font-weight="normal" font-style="normal" font-size="11" fill="#111" >17</text>
<text transform="translate(438.83,256.60) scale(0.6982,1.0)" font-family="Liberation Sans" font-weight="normal" font-style="normal" font-size="10.8" fill="#111" >11</text>
<text transform="translate(437.32,273.90) scale(0.8857,1.0)" font-family="Liberation Sans" font-weight="normal" font-style="normal" font-size="10.3" fill="#111" >10</text>
<text transform="translate(442.70,290.50) scale(0.8000,1.0)" font-family="Liberation Sans" font-weight="normal" font-style="normal" font-size="10.0" fill="#111" >6</text>
<text transform="translate(442.79,309.90) scale(0.7349,1.0)" font-family="Liberation Sans" font-weight="normal" font-style="normal" font-size="10.6" fill="#111" >5</text>
<text transform="translate(442.81,330.50) scale(0.7349,1.0)" font-family="Liberation Sans" font-weight="normal" font-style="normal" font-size="10.6" fill="#111" >3</text>
<text transform="translate(443.33,343.40) scale(0.6713,1.0)" font-family="Liberation Sans" font-weight="normal" font-style="normal" font-size="9.3" fill="#111" >1</text>
<text transform="translate(464.40,271.47) rotate(-90) scale(0.6520,1)" font-family="Liberation Sans" font-weight="normal" font-style="normal" font-size="14.3" fill="#111" >Martin Point</text>
<text transform="translate(481.20,273.95) rotate(-90) scale(0.8918,1)" font-family="Liberation Sans" font-weight="normal" font-style="normal" font-size="14.5" fill="#111" >Cambrian</text></svg>
</body></html>
